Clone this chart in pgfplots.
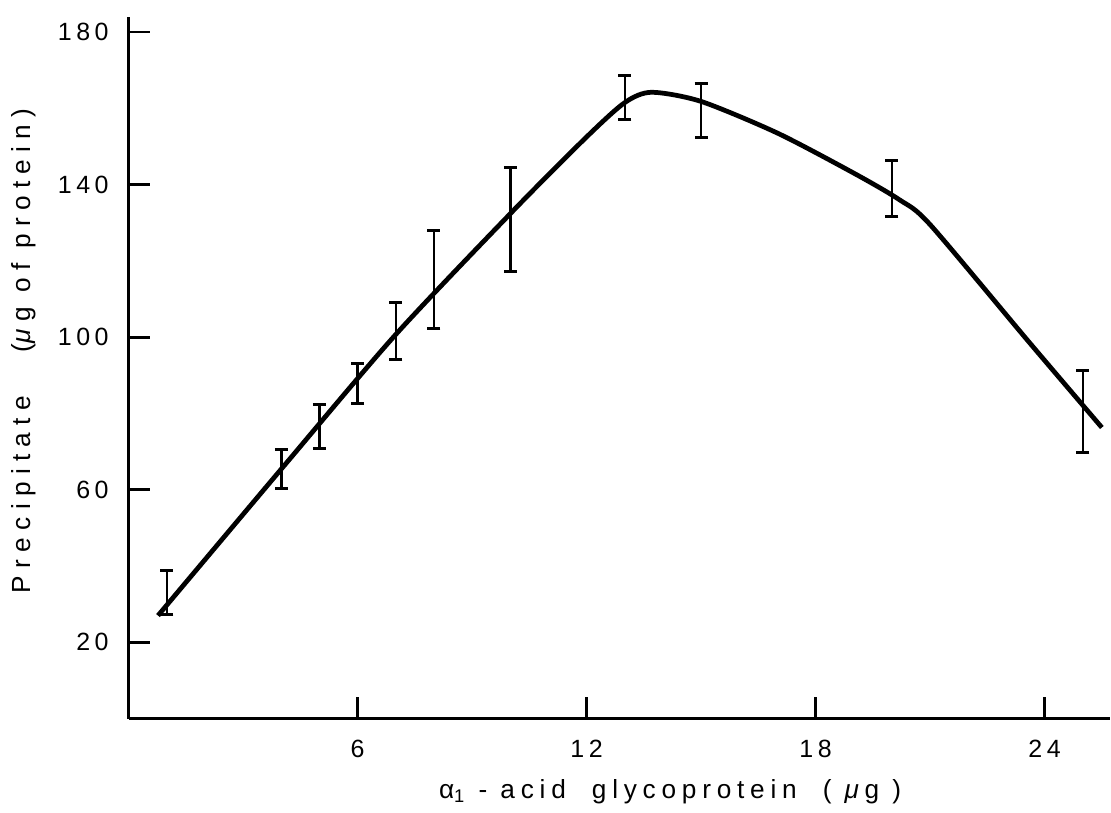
\documentclass[border=0pt]{standalone}
\usepackage{pgfplots}
\pgfplotsset{compat=1.18}
\usepackage{fontspec}
\setmainfont{Liberation Sans}
\newfontfamily\lab[LetterSpace=22]{Liberation Sans}
\newfontfamily\labt[LetterSpace=18]{Liberation Sans}
\newfontfamily\labw[LetterSpace=28]{Liberation Sans}
\begin{document}
\begin{tikzpicture}
\begin{axis}[
  scale only axis,
  width=392.9pt, height=281.1pt,
  xmin=0, xmax=25.7, ymin=0, ymax=184,
  axis x line=bottom, axis y line=left,
  axis line style={-, line width=1.2pt},
  xtick={6,12,18,24}, ytick={20,60,100,140,180},
  tick align=inside,
  major tick length=8.5pt,
  tick style={line width=1.1pt, black},
  ticklabel style={font=\labt\fontsize{10}{12}\selectfont},
  /pgf/number format/assume math mode=true,
  xticklabel style={yshift=-5pt},
  yticklabel style={xshift=-4.5pt},
  xlabel={α\textsubscript{1} - acid\ \ glycoprotein\ \ ( \textit{μ}g )},
  ylabel={Precipitate\ \ \ (\textit{μ}g of\ protein)},
  xlabel style={at={(axis description cs:0.552,-0.1047)}, anchor=center, font=\lab\fontsize{10.5}{12}\selectfont},
  ylabel style={at={(axis description cs:-0.1066,0.524)}, anchor=center, font=\labw\fontsize{10.5}{12}\selectfont},
  clip=false,
]
\addplot[black, line width=1.9pt, smooth, tension=0.45] coordinates {
  (0.77,27) (4.1,66.6) (7.0,100.7) (10.1,133.4)
  (12.0,152.5) (13.0,161.5) (13.7,164.2) (15.0,161.8) (17.0,153.5)
  (19.0,143.0) (20.2,136.0) (21.0,129.5) (23.6,98.6) (25.5,76.3)
};
\addplot[draw=none, mark=none,
  error bars/.cd, y dir=both, y explicit,
  error bar style={draw=black, solid, line width=1pt},
  error mark options={draw=black, rotate=90, mark size=2.6pt, line width=1.2pt}]
  table[x=x, y=y, y error=e] {
x y e
1 33.0 5.7
4 65.4 5.1
5 76.6 5.8
6 87.75 5.25
7 101.65 7.55
8 115.05 12.85
10 130.9 13.7
13 162.85 5.85
15 159.45 7.15
20 138.95 7.35
25 80.55 10.75
};
\path (axis cs:-3.37,-24.0) rectangle (axis cs:25.72,188.4);
\end{axis}
\end{tikzpicture}
\end{document}
